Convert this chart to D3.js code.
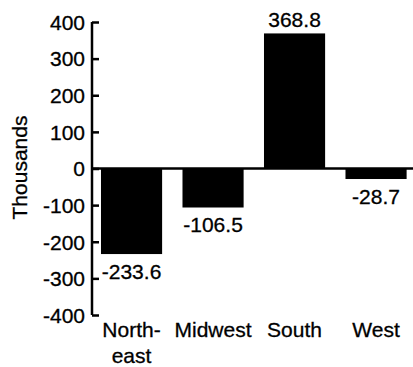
<!DOCTYPE html>
<html><head><meta charset="utf-8">
<script src="https://cdn.jsdelivr.net/npm/d3@7"></script>
<style>body{margin:0;background:#fff}svg{display:block}</style>
</head><body>
<svg id="c" width="413" height="367"></svg>
<script>
const categories = ["Northeast", "Midwest", "South", "West"];
const categoryLines = [["North-", "east"], ["Midwest"], ["South"], ["West"]];
const values = [-233.6, -106.5, 368.8, -28.7];
const valueLabels = ["-233.6", "-106.5", "368.8", "-28.7"];
const yTicks = [400, 300, 200, 100, 0, -100, -200, -300, -400];
const yTitle = "Thousands";

const svg = d3.select("#c");
const font = "'Liberation Sans', Arial, Helvetica, sans-serif";
const fs = 21;

const y = d3.scaleLinear().domain([-400, 400]).range([315, 22]);
const x = d3.scaleBand().domain(categories).range([90.8, 416.8])
  .paddingInner(0.25).paddingOuter(0.125);

// bars
svg.append("g").selectAll("rect").data(values).join("rect")
  .attr("x", (d, i) => x(categories[i]))
  .attr("width", x.bandwidth())
  .attr("y", d => y(Math.max(0, d)))
  .attr("height", d => Math.abs(y(d) - y(0)))
  .attr("fill", "#000");

// zero line
svg.append("line")
  .attr("x1", 92).attr("x2", 413)
  .attr("y1", y(0)).attr("y2", y(0))
  .attr("stroke", "#000").attr("stroke-width", 2.5);

// y axis
const axis = d3.axisLeft(y).tickValues(yTicks).tickSize(-7).tickPadding(7)
  .tickFormat(d3.format("d"));
const ag = svg.append("g").attr("transform", "translate(92,0)").call(axis);
ag.select(".domain").attr("stroke", "#000").attr("stroke-width", 2.5).attr("d", `M0,${y(400)}V${y(-400)}`);
ag.selectAll(".tick line").attr("stroke", "#000").attr("stroke-width", 2.5);
ag.selectAll(".tick text").attr("font-family", font).attr("font-size", fs).attr("fill", "#000")
  .attr("stroke", "#000").attr("stroke-width", 0.3)
  .attr("dy", "0.35em").text(d => d < 0 ? "-" + Math.abs(d) : d);

// y title
svg.append("text")
  .attr("transform", `translate(27,${y(0) - 1}) rotate(-90)`)
  .attr("text-anchor", "middle")
  .attr("font-family", font).attr("font-size", fs).attr("fill", "#000")
  .attr("stroke", "#000").attr("stroke-width", 0.3)
  .text(yTitle);

// value labels
svg.append("g").selectAll("text").data(values).join("text")
  .attr("x", (d, i) => x(categories[i]) + x.bandwidth() / 2)
  .attr("y", d => d >= 0 ? y(d) - 6 : y(d) + 24.5)
  .attr("text-anchor", "middle")
  .attr("font-family", font).attr("font-size", fs).attr("fill", "#000")
  .attr("stroke", "#000").attr("stroke-width", 0.3)
  .text((d, i) => valueLabels[i]);

// category labels
const cg = svg.append("g").selectAll("text").data(categories).join("text")
  .attr("x", d => x(d) + x.bandwidth() / 2)
  .attr("y", 336.5)
  .attr("text-anchor", "middle")
  .attr("font-family", font).attr("font-size", fs).attr("fill", "#000")
  .attr("stroke", "#000").attr("stroke-width", 0.3);
cg.selectAll("tspan").data((d, i) => categoryLines[i]).join("tspan")
  .attr("x", function () { return d3.select(this.parentNode).attr("x"); })
  .attr("dy", (d, j) => j === 0 ? 0 : 26)
  .text(d => d);
</script>
</body></html>
